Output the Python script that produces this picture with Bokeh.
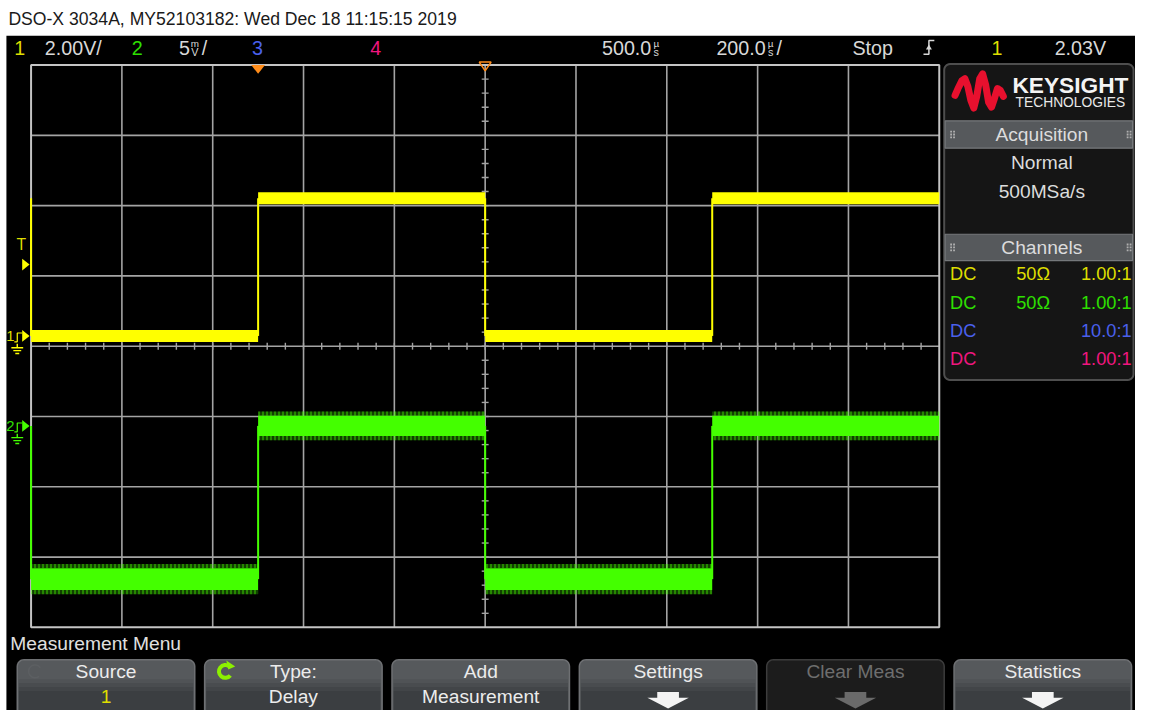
import numpy as np
from bokeh.plotting import figure
from bokeh.models import Range1d
from bokeh.core.properties import value
from bokeh.embed import file_html
from bokeh.resources import INLINE

# ---------------- data ----------------
title_text = "DSO-X 3034A, MY52103182: Wed Dec 18 11:15:15 2019"
channel_numbers = ["1", "2", "3", "4"]
ch1_scale_label = "2.00V/"
ch2_scale_value = "5"
ch2_scale_unit = ["m", "V"]
delay_label = "500.0"
timebase_label = "200.0"
delay_us = 500.0
timebase_us_per_div = 200.0
run_state = "Stop"
trigger_source = "1"
trigger_level_v = 2.03
trigger_label = "2.03V"
ch1_v_per_div = 2.0
ch2_mv_per_div = 5.0

# channel 1 (yellow): edge times (us), level after each edge (V), band thickness (V)
ch1_edge_us = [-500, 0, 500, 1000]
ch1_level_v = [0.0, 3.92, 0.0, 3.92]
ch1_initial_v = 3.92
ch1_band_v = [0.34, 0.34, 0.34, 0.34]

# channel 2 (green): edge times (us), level after each edge (mV), band thickness (mV)
ch2_edge_us = [-500, 0, 500, 1000]
ch2_level_mv = [-10.9, 0.0, -10.9, 0.0]
ch2_initial_mv = 0.0
ch2_band_mv = [1.55, 1.45, 1.55, 1.45]
ch2_spike_mv = [0.3, 0.3, 0.3, 0.3]

acq_title = "Acquisition"
acq_mode = "Normal"
acq_rate = "500MSa/s"
chan_title = "Channels"
chan_coupling = ["DC", "DC", "DC", "DC"]
chan_impedance = ["50Ω", "50Ω", "", ""]
chan_probe = ["1.00:1", "1.00:1", "10.0:1", "1.00:1"]

menu_title = "Measurement Menu"
softkey_line1 = ["Source", "Type:", "Add", "Settings", "Clear Meas", "Statistics"]
softkey_line2 = ["1", "Delay", "Measurement", "", "", ""]
softkey_enabled = [True, True, True, True, False, True]
softkey_arrow = [False, False, False, True, True, True]

# ---------------- layout (reference pixel space) ----------------
W, H = 1151, 726
PW, PH = 1135, 710
FS = PW / W
GX0, GX1, GY0, GY1 = 31.0, 952.0, 66.0, 641.0
NX, NY = 10, 8
DX = (GX1 - GX0) / NX
DY = (GY1 - GY0) / NY
CH1_GND_Y = 343.0
CH2_GND_Y = 435.0

FONT = "Liberation Sans"
BOLD = "Liberation Sans"

YEL = "#ffff00"
YEL_T = "#dede00"
GRN = "#44ff00"
GRN_T = "#2ee000"
BLU = "#4a60ec"
PNK = "#f0167f"
ORG = "#ff8c1a"
TXT = "#d8d8d8"
GRID = "#a4a4a4"
ch_text_colors = [YEL_T, GRN_T, BLU, PNK]


def fs(n):
    return value(f"{n * FS:.1f}px")


p = figure(width=PW, height=PH, x_range=Range1d(0, W), y_range=Range1d(H, 0),
           output_backend="svg", toolbar_location=None, min_border=0,
           background_fill_color="white", border_fill_color="white",
           outline_line_color=None)
p.axis.visible = False
p.grid.visible = False

# time / voltage ranges mapped onto the graticule
t_left = delay_us - (NX / 2) * timebase_us_per_div
t_right = delay_us + (NX / 2) * timebase_us_per_div
k_t = (t_right - t_left) / (GX1 - GX0)
v1_per_px = ch1_v_per_div / DY
v2_per_px = ch2_mv_per_div / DY
p.extra_x_ranges = {"t": Range1d(t_left - GX0 * k_t, t_right + (W - GX1) * k_t)}
p.extra_y_ranges = {
    "v1": Range1d((CH1_GND_Y - H) * v1_per_px, CH1_GND_Y * v1_per_px),
    "v2": Range1d((CH2_GND_Y - H) * v2_per_px, CH2_GND_Y * v2_per_px),
}


def txt(x, y, s, color, size, align="left", font=FONT, style="normal", **kw):
    if not isinstance(x, (list, tuple)):
        x, y, s = [x], [y], [s]
    p.text(x=x, y=y, text=s, text_color=color, text_font=value(font),
           text_font_size=fs(size), text_align=align, text_baseline="middle",
           text_font_style=style, **kw)


def rrect(x0, y0, x1, y1, r, n=7):
    xs, ys = [], []
    for cx, cy, a0, a1 in [(x1 - r, y0 + r, -90, 0), (x1 - r, y1 - r, 0, 90),
                           (x0 + r, y1 - r, 90, 180), (x0 + r, y0 + r, 180, 270)]:
        for a in np.radians(np.linspace(a0, a1, n)):
            xs.append(cx + r * np.cos(a))
            ys.append(cy + r * np.sin(a))
    return xs, ys


# screen background
p.quad(left=[6], right=[W], top=[36], bottom=[H], fill_color="black", line_color=None, level="image")

# title
txt(8, 19, title_text, "#1a1a1a", 17.8)

# ---------------- header bar ----------------
HY = 48.5
HS = 20
txt(14, HY, channel_numbers[0], YEL_T, HS)
txt(45, HY, ch1_scale_label, TXT, HS)
txt(133, HY, channel_numbers[1], GRN_T, HS)
txt(181, HY, ch2_scale_value, TXT, HS)
txt(197, HY - 4.5, ch2_scale_unit[0], TXT, 10, align="center")
txt(197, HY + 4, ch2_scale_unit[1], TXT, 11, align="center")
txt(204, HY, "/", TXT, HS)
txt(255, HY, channel_numbers[2], BLU, HS)
txt(375, HY, channel_numbers[3], PNK, HS)
txt(610, HY, delay_label, TXT, HS)
txt(665, HY - 4.5, "µ", TXT, 10, align="center")
txt(665, HY + 4, "s", TXT, 11, align="center")
txt(726, HY, timebase_label, TXT, HS)
txt(781, HY - 4.5, "µ", TXT, 10, align="center")
txt(781, HY + 4, "s", TXT, 11, align="center")
txt(787, HY, "/", TXT, HS)
txt(864, HY, run_state, TXT, HS)
# rising-edge trigger symbol
p.line(x=[936, 941.5, 941.5, 947], y=[55, 55, 41, 41], line_color=TXT, line_width=1.5)
p.patch(x=[938.5, 944.5, 941.5], y=[50, 50, 45], fill_color=TXT, line_color=None)
txt(1005, HY, trigger_source, YEL_T, HS)
txt(1069, HY, trigger_label, TXT, HS)

# ---------------- graticule ----------------
vx = [GX0 + i * DX for i in range(1, NX)]
p.segment(x0=vx, y0=[GY0] * len(vx), x1=vx, y1=[GY1] * len(vx), line_color=GRID, line_width=1.6)
hy = [GY0 + j * DY for j in range(1, NY)]
p.segment(x0=[GX0] * len(hy), y0=hy, x1=[GX1] * len(hy), y1=hy, line_color=GRID, line_width=1.6)
cx_mid = GX0 + DX * NX / 2
cy_mid = GY0 + DY * NY / 2
tx = [GX0 + kk * DX / 5 for kk in range(1, NX * 5)]
p.segment(x0=tx, y0=[cy_mid - 3.5] * len(tx), x1=tx, y1=[cy_mid + 3.5] * len(tx), line_color=GRID, line_width=1.4)
ty = [GY0 + kk * DY / 5 for kk in range(1, NY * 5)]
p.segment(x0=[cx_mid - 3.5] * len(ty), y0=ty, x1=[cx_mid + 3.5] * len(ty), y1=ty, line_color=GRID, line_width=1.4)
p.quad(left=[GX0], right=[GX1], top=[GY0], bottom=[GY1], fill_color=None, line_color="#c4c4c4", line_width=2)


# ---------------- waveforms ----------------
def draw_channel(edges, levels, initial, bands, color, yr, spikes=None):
    rights = edges[1:] + [t_right]
    lo = [lv - b / 2 for lv, b in zip(levels, bands)]
    hi = [lv + b / 2 for lv, b in zip(levels, bands)]
    p.quad(left=edges, right=rights, bottom=lo, top=hi,
           fill_color=color, line_color=None, x_range_name="t", y_range_name=yr)
    if spikes is not None:
        # noise fringe above and below the band
        p.quad(left=edges + edges, right=rights + rights,
               bottom=[h for h in hi] + [l - s for l, s in zip(lo, spikes)],
               top=[h + s for h, s in zip(hi, spikes)] + [l for l in lo],
               fill_color=color, fill_alpha=0.25, line_color=None, hatch_pattern="|",
               hatch_color=color, hatch_scale=4, hatch_weight=1, hatch_alpha=0.75,
               x_range_name="t", y_range_name=yr)
    prev = [initial] + levels[:-1]
    p.segment(x0=edges, y0=prev, x1=edges, y1=levels, line_color=color, line_width=2,
              x_range_name="t", y_range_name=yr)


draw_channel(ch1_edge_us, ch1_level_v, ch1_initial_v, ch1_band_v, YEL, "v1")
draw_channel(ch2_edge_us, ch2_level_mv, ch2_initial_mv, ch2_band_mv, GRN, "v2", ch2_spike_mv)

# ---------------- markers ----------------
p.patch(x=[-7 * k_t, 7 * k_t, 0], y=[66, 66, 75], fill_color=ORG, line_color=None, x_range_name="t")
p.patch(x=[delay_us - 6 * k_t, delay_us + 6 * k_t, delay_us], y=[63, 63, 72], fill_color=None,
        line_color=ORG, line_width=1.5, x_range_name="t")
txt(21, 250, "T", YEL_T, 16, align="center")
p.patch(x=[22, 22, 29.5], y=[trigger_level_v + 6 * v1_per_px, trigger_level_v - 6 * v1_per_px, trigger_level_v],
        fill_color=YEL, line_color=None, y_range_name="v1")


def ground_marker(label, gy, color, tcolor):
    txt(10, gy, label, tcolor, 15, align="center")
    p.line(x=[14, 17, 17, 22], y=[gy + 6, gy + 6, gy - 3, gy - 3], line_color=color, line_width=1.2)
    p.patch(x=[22, 22, 29.5], y=[gy - 6, gy + 6, gy], fill_color=color, line_color=None)
    p.segment(x0=[17, 11, 13, 15], y0=[gy + 8, gy + 12, gy + 15, gy + 18],
              x1=[17, 23, 21, 19], y1=[gy + 12, gy + 12, gy + 15, gy + 18],
              line_color=color, line_width=1.4)


ground_marker(channel_numbers[0], CH1_GND_Y, YEL, YEL_T)
ground_marker(channel_numbers[1], CH2_GND_Y, GRN, GRN_T)

# ---------------- right-hand panel ----------------
xs, ys = rrect(957, 65, 1149, 388, 6)
p.patch(x=xs, y=ys, fill_color="#151515", line_color="#4e4e4e", line_width=2)
logo_x = [968, 971, 975, 978, 981, 984, 987, 990, 993, 996, 999, 1002, 1005, 1008, 1011, 1014, 1017]
logo_y = [97, 90, 82, 80, 88, 102, 110, 98, 80, 75, 86, 104, 109, 100, 90, 92, 98]
p.line(x=logo_x, y=logo_y, line_color="#e8102e", line_width=7, line_join="round", line_cap="round")
txt(1085, 86, "KEYSIGHT", "#f4f4f4", 23, align="center", font=BOLD, style="bold")
txt(1085, 104, "TECHNOLOGIES", "#e8e8e8", 14, align="center", font=BOLD)

for (y0, y1, label) in [(123, 151, acq_title), (239, 266, chan_title)]:
    p.quad(left=[958], right=[1148], top=[y0], bottom=[y1], fill_color="#56595c",
           line_color="#75787b", line_width=1.2)
    yc = (y0 + y1) / 2
    dots_x, dots_y = [], []
    for gx in (964, 1143):
        for dxo in (0, 3):
            for dyo in (-3, 0, 3):
                dots_x.append(gx + dxo)
                dots_y.append(yc + dyo)
    p.scatter(x=dots_x, y=dots_y, marker="square", size=1.8, fill_color="#b0b0b0", line_color=None)
    txt(1056, yc, label, "#dcdcdc", 19.5, align="center")

txt(1056, 166, acq_mode, "#dcdcdc", 19.5, align="center")
txt(1056, 195, acq_rate, "#dcdcdc", 19.5, align="center")
row_y = [280, 309, 338, 367]
for i in range(4):
    txt(963, row_y[i], chan_coupling[i], ch_text_colors[i], 18.5)
    if chan_impedance[i]:
        txt(1030, row_y[i], chan_impedance[i], ch_text_colors[i], 18.5)
    txt(1147, row_y[i], chan_probe[i], ch_text_colors[i], 18.5, align="right")

# ---------------- measurement menu ----------------
BS = 19.5
txt(10, 657, menu_title, "#e0e0e0", BS)
for i in range(6):
    x0 = 17 + 190 * i
    x1 = x0 + 180
    cxb = (x0 + x1) / 2
    xs, ys = rrect(x0, 674, x1, 745, 7)
    if softkey_enabled[i]:
        p.patch(x=xs, y=ys, fill_color="#56595c", line_color="#6e7073", line_width=1.5)
        strips = [(694, 698, "#505356"), (698, 702, "#494c4f"), (702, 706, "#424548"), (706, 745, "#3b3e41")]
        p.quad(left=[x0 + 1.5] * 4, right=[x1 - 1.5] * 4, top=[s[0] for s in strips],
               bottom=[s[1] for s in strips], fill_color=[s[2] for s in strips], line_color=None)
        tcol = "#ececec"
        acol = "#f4f4f4"
    else:
        p.patch(x=xs, y=ys, fill_color="#1c1c1c", line_color="#3c3c3c", line_width=1.5)
        tcol = "#6e6e6e"
        acol = "#6a6a6a"
    txt(cxb, 686, softkey_line1[i], tcol, BS, align="center")
    if softkey_line2[i]:
        c2 = YEL_T if (i == 0 and softkey_line2[i] == trigger_source) else tcol
        txt(cxb, 712, softkey_line2[i], c2, BS, align="center")
    if softkey_arrow[i]:
        p.patch(x=[cxb - 11, cxb + 11, cxb + 11, cxb + 21, cxb, cxb - 21, cxb - 11],
                y=[707, 707, 713, 713, 724, 713, 713], fill_color=acol, line_color=None)

p.arc(x=[35], y=[686], radius=6.5, start_angle=0.6, end_angle=5.4, line_color="#5c5f62", line_width=1.5)
p.arc(x=[228], y=[686], radius=6.5, start_angle=0.9, end_angle=5.6, line_color="#8cf000", line_width=4)
p.patch(x=[229, 238, 231], y=[675, 681, 684], fill_color="#8cf000", line_color=None)

open("out.html", "w").write(file_html(p, INLINE))
